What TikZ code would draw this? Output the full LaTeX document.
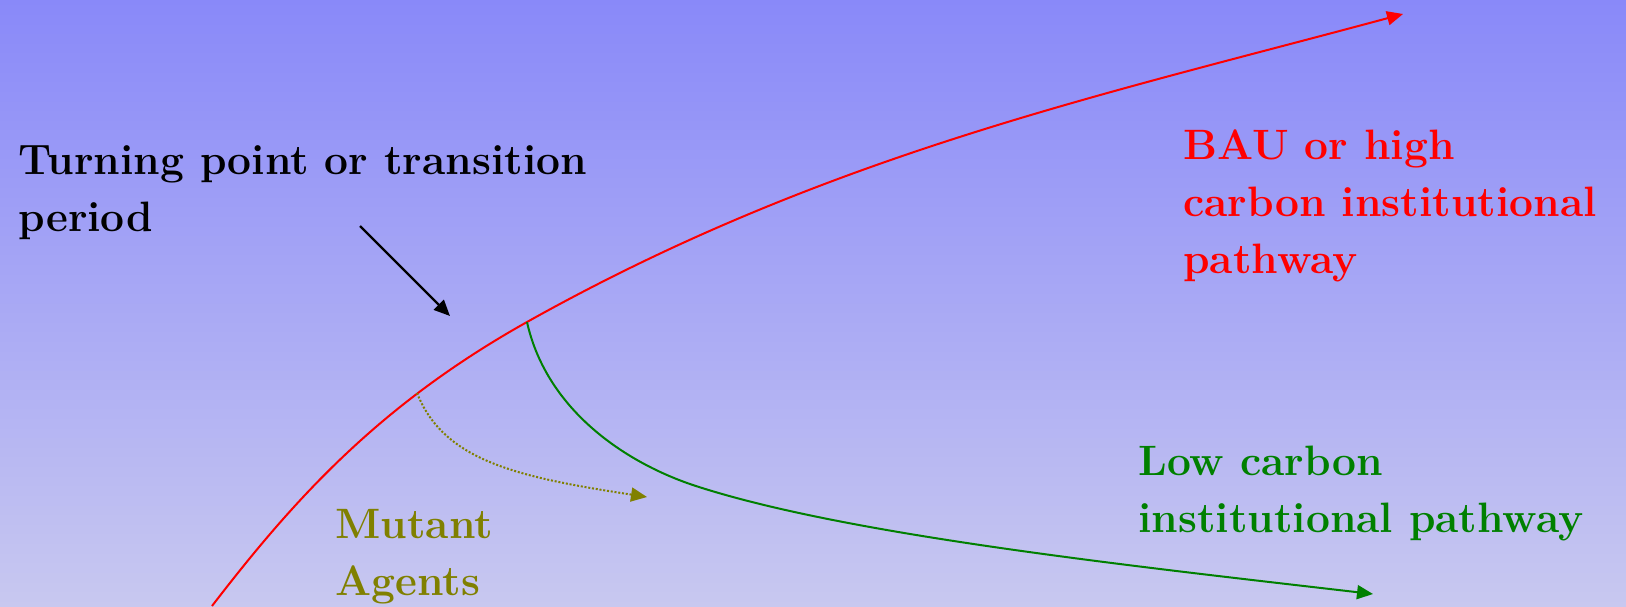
\documentclass[tikz,border=0pt]{standalone}
\usepackage{xcolor}
\usepackage{tikz}
\usetikzlibrary{arrows.meta}
\definecolor{bgtop}{HTML}{8989F9}
\definecolor{bgbot}{HTML}{C8C8F0}
\definecolor{baured}{HTML}{FF0000}
\definecolor{lowgreen}{HTML}{008000}
\definecolor{mutolive}{HTML}{808000}

\begin{document}
\begin{tikzpicture}[x=0.5pt, y=-0.5pt,
  lbl/.style={anchor=base west, align=left, inner sep=0pt,
    font=\fontsize{21.25}{28.5}\selectfont\bfseries},
  route/.style={line width=1pt, -{Triangle[length=8pt, width=7pt]}},
]
  % background
  \shade[top color=bgtop, bottom color=bgbot] (0,0) rectangle (1626,606);
  \useasboundingbox (0,0) rectangle (1626,606);

  \coordinate (start) at (212,606);
  \coordinate (mutfork) at (417,393);
  \coordinate (lowfork) at (527,322);
  \coordinate (lowbend) at (699,487);
  \coordinate (bauend) at (1403,14);
  \coordinate (lowend) at (1373,594);
  \coordinate (mutend) at (647,497);
  \coordinate (tpfrom) at (360,226);
  \coordinate (tpto) at (450,316);

  % pathways
  \draw[route, baured] (start) .. controls (292,502) and (377,406) .. (lowfork)
    .. controls (827,154) and (1103,95) .. (bauend);
  \draw[route, lowgreen] (lowfork) .. controls (547,412) and (629,465) .. (lowbend)
    .. controls (849,535) and (1123,565) .. (lowend);
  \draw[route, mutolive, dash pattern=on 1pt off 0.9pt] (mutfork)
    .. controls (444,461) and (517,477) .. (mutend);
  \draw[line width=1.2pt, -{Triangle[length=8pt, width=7pt]}] (tpfrom) -- (tpto);

  % labels
  \node[lbl] (turning) at (18,231) {Turning point or transition\\period};
  \node[lbl, baured] (bau) at (1183,273) {BAU or high\\carbon institutional\\pathway};
  \node[lbl, lowgreen] (low) at (1138,532) {Low carbon\\institutional pathway};
  \node[lbl, mutolive] (mutant) at (335,595) {Mutant\\Agents};
\end{tikzpicture}
\end{document}
